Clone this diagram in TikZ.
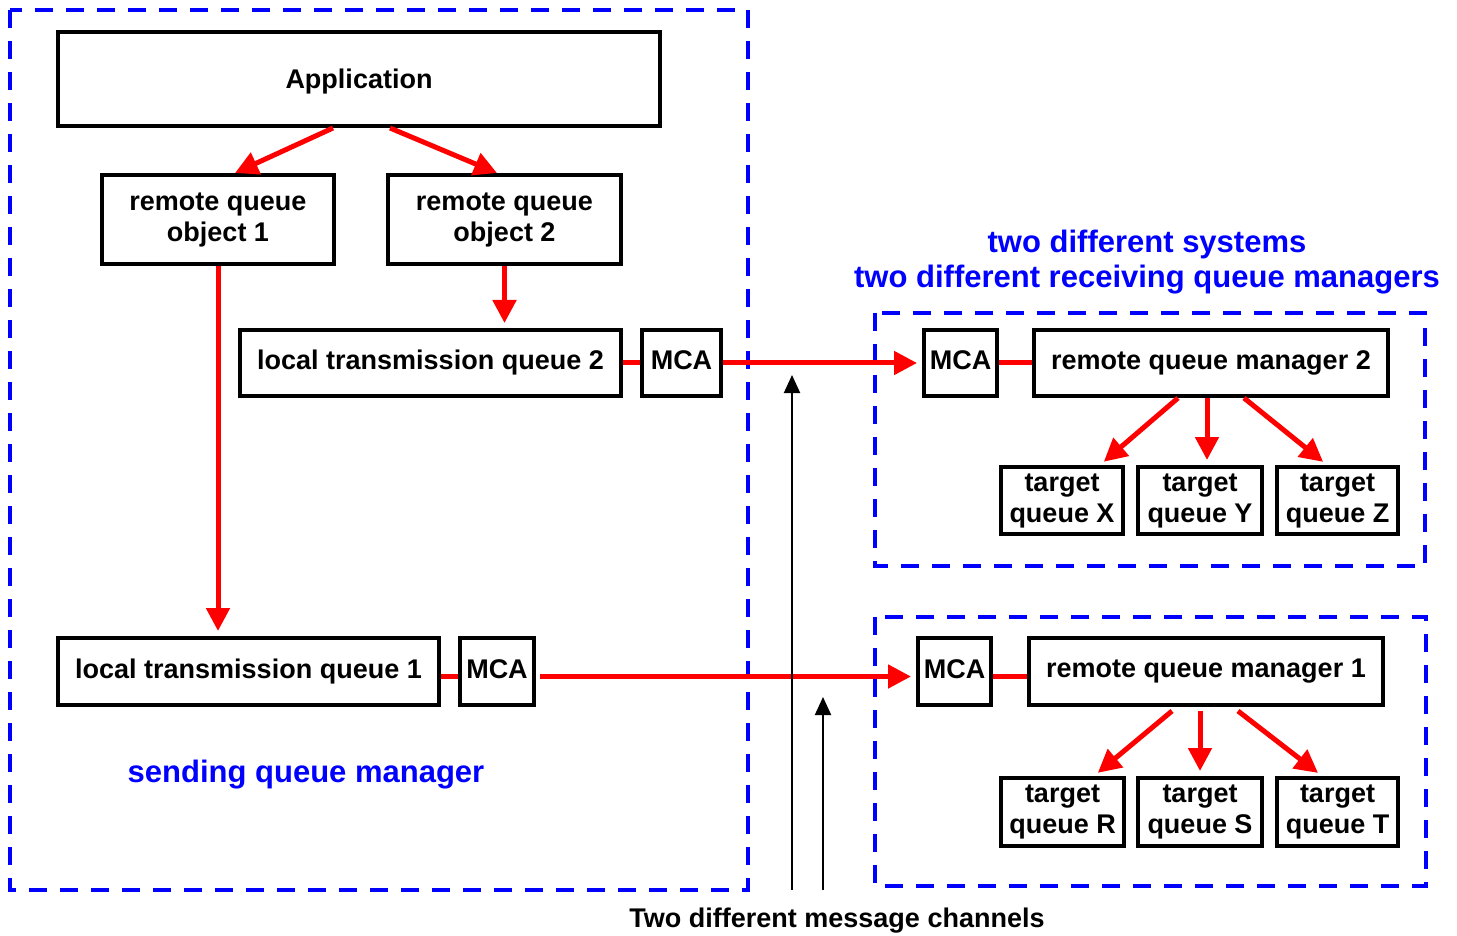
\documentclass[tikz,border=0pt]{standalone}
\usepackage{fontspec}
\setmainfont{Liberation Sans}
\usetikzlibrary{arrows.meta}
\definecolor{zoneblue}{RGB}{0,0,255}
\begin{document}
\begin{tikzpicture}[x=0.5pt,y=-0.5pt,
  box/.style={draw=black,line width=2pt,inner sep=0pt,align=center,
    font=\fontsize{13.5}{15.5}\selectfont\bfseries},
  mca/.style={box,text depth=2.8pt},
  zone/.style={draw=zoneblue,line width=2pt,dash pattern=on 9pt off 6.5pt},
  flow/.style={draw=red,line width=2.5pt,shorten >=2.5pt,
    -{Triangle[length=11.5pt,width=11.5pt]}},
  link/.style={draw=red,line width=2.5pt},
  chan/.style={draw=black,line width=1pt,-{Triangle[length=9pt,width=8pt]}},
  bluetext/.style={text=zoneblue,font=\fontsize{15.5}{18}\selectfont\bfseries},
  caption/.style={text=black,font=\fontsize{13.5}{16}\selectfont\bfseries}
]
\useasboundingbox (0,0) rectangle (1457,936);

% dashed system boundaries
\draw[zone] (10,10) rectangle (748,890);
\draw[zone] (875,313) rectangle (1425,566);
\draw[zone] (875,617) rectangle (1426,886);

% sending side
\node[box,text depth=0pt,minimum width=301pt,minimum height=47pt] (app) at (359,79) {Application};
\node[box,minimum width=116pt,minimum height=44.5pt] (rqo1) at (218,219.5) {remote queue\\object 1};
\node[box,minimum width=116.5pt,minimum height=44.5pt] (rqo2) at (504.5,219.5) {remote queue\\object 2};
\node[box,minimum width=190.5pt,minimum height=33pt] (ltq2) at (430.5,363) {local transmission queue 2};
\node[mca,minimum width=39.5pt,minimum height=33pt] (mcas2) at (681.5,363) {MCA};
\node[box,minimum width=190.5pt,minimum height=33.5pt] (ltq1) at (248.5,671.5) {local transmission queue 1};
\node[mca,minimum width=37pt,minimum height=33.5pt] (mcas1) at (497,671.5) {MCA};

% receiving side, queue manager 2
\node[mca,minimum width=36.5pt,minimum height=33pt] (mcar2) at (960.5,363) {MCA};
\node[box,minimum width=177pt,minimum height=33pt] (rqm2) at (1211,363) {remote queue manager 2};
\node[box,minimum width=61pt,minimum height=33.5pt] (tqx) at (1062,500.5) {target\\queue X};
\node[box,minimum width=62pt,minimum height=33.5pt] (tqy) at (1200,500.5) {target\\queue Y};
\node[box,minimum width=60.5pt,minimum height=33.5pt] (tqz) at (1337.5,500.5) {target\\queue Z};

% receiving side, queue manager 1
\node[mca,minimum width=36.5pt,minimum height=33.5pt] (mcar1) at (954.5,671.5) {MCA};
\node[box,minimum width=177pt,minimum height=33.5pt] (rqm1) at (1206,671.5) {remote queue manager 1};
\node[box,minimum width=61.5pt,minimum height=34pt] (tqr) at (1062.5,812) {target\\queue R};
\node[box,minimum width=62pt,minimum height=34pt] (tqs) at (1200,812) {target\\queue S};
\node[box,minimum width=60.5pt,minimum height=34pt] (tqt) at (1337.5,812) {target\\queue T};

% labels
\node[bluetext] (sysl1) at (1147,244) {two different systems};
\node[bluetext] (sysl2) at (1147,280) {two different receiving queue managers};
\node[bluetext] (sendl) at (306,775) {sending queue manager};
\node[caption] (chanl) at (837,921) {Two different message channels};

% application to remote queue objects
\draw[flow,shorten >=0pt] ([xshift=-13pt]app.south) -- ([xshift=8.5pt]rqo1.north);
\draw[flow,shorten >=0pt] ([xshift=15.5pt]app.south) -- ([xshift=-3.75pt]rqo2.north);

% remote queue objects to transmission queues
\draw[flow] (rqo1.south) -- (rqo1.south |- ltq1.north);
\draw[flow] (rqo2.south) -- (rqo2.south |- ltq2.north);

% channel 2
\draw[link] (ltq2.east) -- (mcas2.west);
\draw[flow] (mcas2.east) -- (mcar2.west);
\draw[link] (mcar2.east) -- (rqm2.west);

% channel 1
\draw[link] ([yshift=-2.5pt]ltq1.east) -- ([yshift=-2.5pt]mcas1.west);
\draw[flow] ([xshift=2pt,yshift=-2.5pt]mcas1.east) -- ([yshift=-2.5pt]mcar1.west);
\draw[link] ([yshift=-2.5pt]mcar1.east) -- ([yshift=-2.5pt]rqm1.west);

% queue manager 2 to target queues
\draw[flow] ([xshift=-16.5pt]rqm2.south) -- ([xshift=19pt]tqx.north);
\draw[flow] ([xshift=-2pt]rqm2.south) -- ([xshift=3.5pt]tqy.north);
\draw[flow] ([xshift=16.5pt]rqm2.south) -- ([xshift=-5.25pt]tqz.north);

% queue manager 1 to target queues
\draw[flow] ([xshift=-17pt,yshift=-2pt]rqm1.south) -- ([xshift=15.75pt]tqr.north);
\draw[flow] ([yshift=-2pt]rqm1.south -| tqs.north) -- (tqs.north);
\draw[flow] ([xshift=16pt,yshift=-2pt]rqm1.south) -- ([xshift=-7.75pt]tqt.north);

% message channel pointers
\coordinate (c2foot) at (792,890);
\coordinate (c2head) at (792,375);
\coordinate (c1foot) at (823,890);
\coordinate (c1head) at (823,697);
\draw[chan] (c2foot) -- (c2head);
\draw[chan] (c1foot) -- (c1head);
\end{tikzpicture}
\end{document}
